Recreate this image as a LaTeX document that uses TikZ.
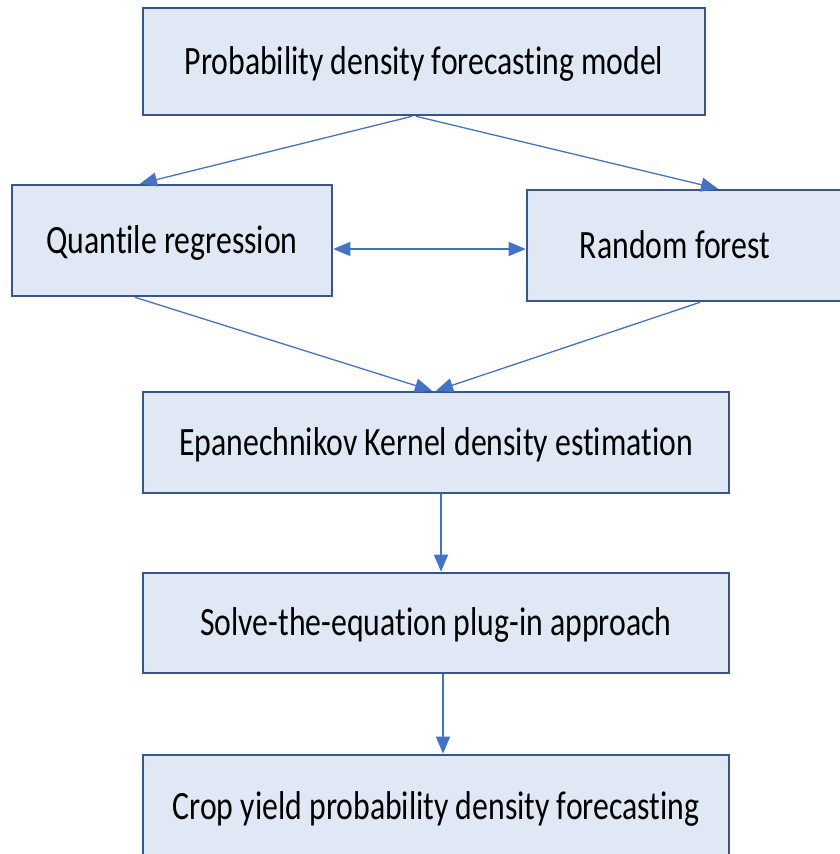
\documentclass[tikz,border=0pt]{standalone}
\usepackage{fontspec}
\setmainfont[FakeStretch=0.79,Ligatures=NoCommon]{Carlito}
\usepackage{tikz}
\usetikzlibrary{arrows.meta}
\definecolor{boxfill}{RGB}{225,232,245}
\definecolor{boxline}{RGB}{58,84,140}
\definecolor{arrowline}{RGB}{68,114,196}
\tikzset{
    stage/.style={
        draw=boxline,
        fill=boxfill,
        line width=2.6pt,
        inner sep=0pt,
        text height=25pt,
        text depth=0pt,
        font=\fontsize{40.2}{44}\selectfont
    },
    flow/.style={
        draw=arrowline,
        line width=1.3pt,
        -{Triangle[length=17pt,width=14pt]}
    },
    flowboth/.style={
        flow,
        {Triangle[length=17pt,width=14pt]}-{Triangle[length=17pt,width=14pt]}
    }
}

\begin{document}
\begin{tikzpicture}[x=1pt,y=-1pt]
		\useasboundingbox (0,0) rectangle (839,854);

		% Model and its two methods
		\node[stage, minimum width=562pt, minimum height=107pt] (model) at (424,61.5) {Probability density forecasting model};
		\node[stage, minimum width=320pt, minimum height=111pt] (quantile) at (172,240.5) {Quantile regression};
		\node[stage, minimum width=324pt, minimum height=111pt] (forest) at (689,245.5) {Random forest\hspace*{28pt}};

		% Kernel density steps
		\node[stage, minimum width=586pt, minimum height=101pt] (kernel) at (436,442.5) {Epanechnikov Kernel density estimation};
		\node[stage, minimum width=586pt, minimum height=100pt] (plugin) at (436,623) {Solve-the-equation plug-in approach};
		\node[stage, minimum width=586pt, minimum height=104pt] (crop) at (436,807) {Crop yield probability density forecasting};

		% Connectors
		\draw[flow] ([xshift=-12pt]model.south) -- ([xshift=-32pt]quantile.north);
		\draw[flow] ([xshift=-8pt]model.south) -- ([xshift=29pt]forest.north);
		\draw[flowboth] (quantile.east |- 0,249) -- (forest.west |- 0,249);
		\draw[flow] ([xshift=-37pt]quantile.south) -- ([xshift=-4pt]kernel.north);
		\draw[flow] ([xshift=11pt]forest.south) -- ([xshift=0pt]kernel.north);
		\draw[flow] ([xshift=5pt]kernel.south) -- ([xshift=5pt]plugin.north);
		\draw[flow] ([xshift=7pt]plugin.south) -- ([xshift=7pt]crop.north);

	\end{tikzpicture}
\end{document}
